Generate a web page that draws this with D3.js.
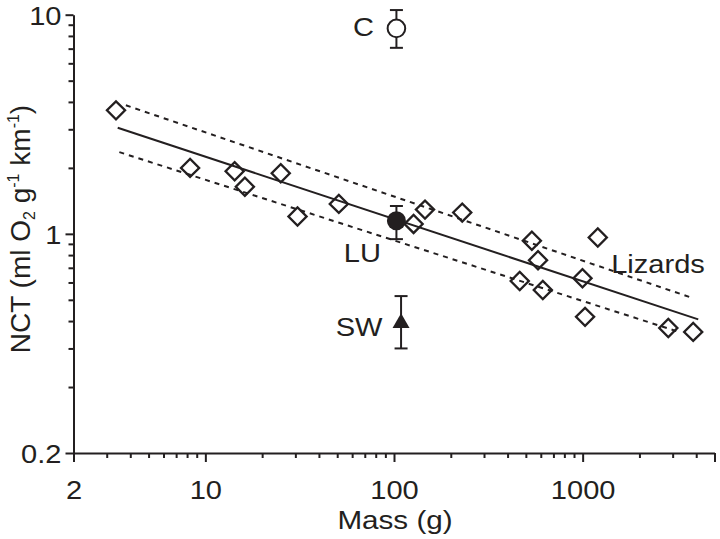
<!DOCTYPE html>
<html>
<head>
<meta charset="utf-8">
<script src="https://cdn.jsdelivr.net/npm/d3@7"></script>
<style>
  html, body { margin: 0; padding: 0; background: #ffffff; }
  svg { display: block; }
  text { font-family: "Liberation Sans", Arial, Helvetica, sans-serif; fill: #231f20; }
</style>
</head>
<body>
<svg id="chart" width="720" height="539"></svg>
<script>
// ---------- data ----------
const lizardMass = [3.36, 8.3, 14.3, 16.2, 25.1, 30.8, 51, 127, 146, 230, 464, 538, 580, 615, 998, 1030, 1203, 2845, 3855];
const lizardNCT  = [3.66, 2.0, 1.93, 1.64, 1.89, 1.2, 1.37, 1.11, 1.29, 1.25, 0.609, 0.93, 0.758, 0.554, 0.627, 0.418, 0.962, 0.372, 0.357];

const fitMass   = [3.43, 4100];
const fitNCT    = [3.05, 0.407];
const upperMass = [3.79, 3785];
const upperNCT  = [3.86, 0.511];
const lowerMass = [3.5, 3200];
const lowerNCT  = [2.36, 0.358];

const groupNames = ["C", "LU", "SW"];
const groupMass  = [103, 103, 109];
const groupNCT   = [8.66, 1.147, 0.392];
const groupLow   = [7.06, 0.946, 0.30];
const groupHigh  = [10.5, 1.34, 0.52];

const xMajorTicks  = [2, 10, 100, 1000, 5000];
const xMajorLabels = ["2", "10", "100", "1000", ""];
const xMinorTicks  = [3,4,5,6,7,8,9, 20,30,40,50,60,70,80,90, 200,300,400,500,600,700,800,900, 2000,3000,4000];
const yMajorTicks  = [0.1, 1, 10];
const yMajorLabels = ["0.2", "1", "10"];
const yMinorTicks  = [0.2,0.3,0.4,0.5,0.6,0.7,0.8,0.9, 2,3,4,5,6,7,8,9];

// ---------- drawing ----------
const INK = "#231f20";
const SX = 1.14;      // horizontal stretch of the reference lettering
const FS = 25.5;

const svg = d3.select("#chart");
const x = d3.scaleLog().domain([2, 5000]).range([73.5, 714.5]);
const y = d3.scaleLog().domain([0.1, 10]).range([453, 14.7]);

function stretch(sel) {
  sel.each(function () {
    const t = d3.select(this);
    const tx = +t.attr("x") || 0, ty = +t.attr("y") || 0;
    t.attr("x", 0).attr("y", 0).attr("transform", `translate(${tx},${ty}) scale(${SX},1)`);
  });
}

// minor ticks
svg.append("g").attr("transform", "translate(0,453)")
  .call(d3.axisBottom(x).tickValues(xMinorTicks).tickSize(5).tickFormat(""))
  .call(g => g.select(".domain").remove());
svg.append("g").attr("transform", "translate(73.5,0)")
  .call(d3.axisLeft(y).tickValues(yMinorTicks).tickSize(5).tickFormat(""))
  .call(g => g.select(".domain").remove());

// major axes
const gx = svg.append("g").attr("transform", "translate(0,453)")
  .call(d3.axisBottom(x).tickValues(xMajorTicks).tickSize(9).tickSizeOuter(0).tickPadding(19)
    .tickFormat((d, i) => xMajorLabels[i]));
const gy = svg.append("g").attr("transform", "translate(73.5,0)")
  .call(d3.axisLeft(y).tickValues(yMajorTicks).tickSize(8).tickSizeOuter(0).tickPadding(4)
    .tickFormat((d, i) => yMajorLabels[i]));

svg.selectAll(".tick line").attr("stroke", INK).attr("stroke-width", 2);
[gx, gy].forEach(g => {
  g.select(".domain").attr("stroke", INK).attr("stroke-width", 2);
  g.selectAll("text").attr("font-size", FS).attr("fill", INK)
    .attr("font-family", "Liberation Sans, Arial, sans-serif");
});
gy.selectAll("text").attr("dy", "0.38em");
stretch(gx.selectAll("text"));
stretch(gy.selectAll("text"));

// axis titles
svg.append("text")
  .attr("text-anchor", "middle")
  .attr("font-size", FS + 0.5)
  .attr("x", 0).attr("y", 0)
  .attr("transform", `translate(${(x(2) + x(5000)) / 2 + 1},529) scale(${SX},1)`)
  .text("Mass (g)");

const yt = svg.append("text")
  .attr("text-anchor", "middle")
  .attr("font-size", 28)
  .attr("transform", "translate(30,229) rotate(-90)");
yt.append("tspan").text("NCT (ml O");
yt.append("tspan").attr("font-size", 16).attr("dy", 5).text("2");
yt.append("tspan").attr("dy", -5).text(" g");
yt.append("tspan").attr("font-size", 16).attr("dy", -11).text("-1");
yt.append("tspan").attr("dy", 11).text(" km");
yt.append("tspan").attr("font-size", 16).attr("dy", -11).text("-1");
yt.append("tspan").attr("dy", 11).text(")");

// regression lines
const line = d3.line().x(d => x(d[0])).y(d => y(d[1]));
svg.append("path").datum(fitMass.map((m, i) => [m, fitNCT[i]]))
  .attr("d", line).attr("fill", "none").attr("stroke", INK).attr("stroke-width", 2);
svg.append("path").datum(upperMass.map((m, i) => [m, upperNCT[i]]))
  .attr("d", line).attr("fill", "none").attr("stroke", INK).attr("stroke-width", 2)
  .attr("stroke-dasharray", "5,5");
svg.append("path").datum(lowerMass.map((m, i) => [m, lowerNCT[i]]))
  .attr("d", line).attr("fill", "none").attr("stroke", INK).attr("stroke-width", 2)
  .attr("stroke-dasharray", "5,5");

// lizard diamonds
const diamond = d3.symbol(d3.symbolSquare, 165);
svg.append("g").selectAll("path")
  .data(lizardMass.map((m, i) => [m, lizardNCT[i]]))
  .join("path")
  .attr("d", diamond)
  .attr("transform", d => `translate(${x(d[0])},${y(d[1])}) rotate(45)`)
  .attr("fill", "none").attr("stroke", INK).attr("stroke-width", 2.3);

// group points with error bars
const groups = groupNames.map((n, i) => ({ n, m: groupMass[i], v: groupNCT[i], lo: groupLow[i], hi: groupHigh[i] }));
const cap = 6.5;
const eg = svg.append("g").attr("stroke", INK).attr("stroke-width", 2);
groups.forEach(g => {
  const cx = x(g.m);
  eg.append("line").attr("x1", cx).attr("x2", cx).attr("y1", y(g.hi)).attr("y2", y(g.lo));
  eg.append("line").attr("x1", cx - cap).attr("x2", cx + cap).attr("y1", y(g.hi)).attr("y2", y(g.hi));
  eg.append("line").attr("x1", cx - cap).attr("x2", cx + cap).attr("y1", y(g.lo)).attr("y2", y(g.lo));
});
// C: open circle
svg.append("circle").attr("cx", x(groups[0].m)).attr("cy", y(groups[0].v)).attr("r", 8.8)
  .attr("fill", "#ffffff").attr("stroke", INK).attr("stroke-width", 2);
// LU: filled circle
svg.append("circle").attr("cx", x(groups[1].m)).attr("cy", y(groups[1].v)).attr("r", 9.5)
  .attr("fill", INK);
// SW: filled triangle
svg.append("path").attr("d", d3.symbol(d3.symbolTriangle, 125)())
  .attr("transform", `translate(${x(groups[2].m)},${y(groups[2].v)})`)
  .attr("fill", INK);

// labels
const labelOffsets = { C: [-33, 8], LU: [-34, 41.5], SW: [-42, 13.5] };
groups.forEach(g => {
  const o = labelOffsets[g.n];
  svg.append("text").attr("text-anchor", "middle").attr("font-size", FS)
    .attr("transform", `translate(${x(g.m) + o[0]},${y(g.v) + o[1]}) scale(${SX},1)`)
    .text(g.n);
});
svg.append("text").attr("text-anchor", "middle").attr("font-size", FS)
  .attr("transform", `translate(${x(2510)},${y(0.665)}) scale(${SX},1)`)
  .text("Lizards");
</script>
</body>
</html>
